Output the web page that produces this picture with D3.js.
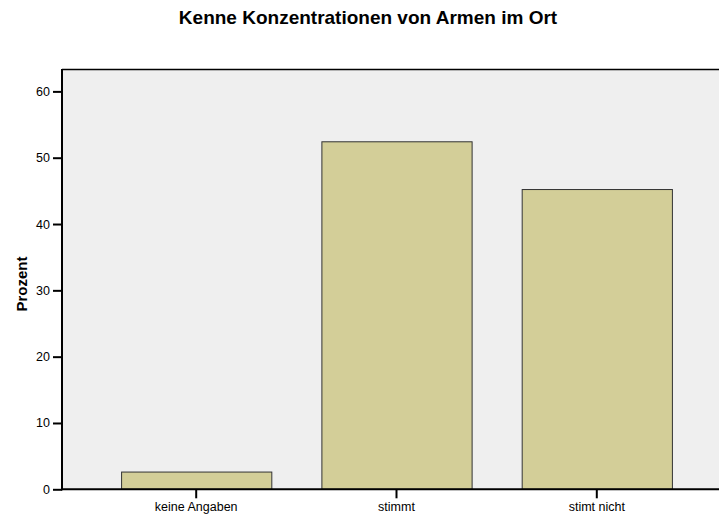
<!DOCTYPE html>
<html>
<head>
<meta charset="utf-8">
<script src="https://cdn.jsdelivr.net/npm/d3@7"></script>
<style>
  body { margin: 0; background: #fff; }
  text { font-family: "Liberation Sans", Arial, sans-serif; }
</style>
</head>
<body>
<div class="chart"></div>
<script>
var svgWidth = 719;
var svgHeight = 517;

var categories = ["keine Angaben", "stimmt", "stimt nicht"];
var percentValues = [2.6, 52.4, 45.2];
var yTickValues = [0, 10, 20, 30, 40, 50, 60];

var chartTitle = "Kenne Konzentrationen von Armen im Ort";
var yTitle = "Prozent";

var plot = { left: 62, right: 731, top: 69.5, bottom: 489.3 };

var svg = d3.select(".chart")
  .append("svg")
  .attr("width", svgWidth)
  .attr("height", svgHeight);

var yScale = d3.scaleLinear()
  .domain([0, 63.3])
  .range([plot.bottom, plot.top]);

var xScale = d3.scaleBand()
  .domain(categories)
  .range([plot.left, plot.right])
  .paddingInner(0.25)
  .paddingOuter(0.295);

// plot background
svg.append("rect")
  .attr("x", plot.left)
  .attr("y", plot.top)
  .attr("width", plot.right - plot.left)
  .attr("height", plot.bottom - plot.top)
  .attr("fill", "#efefef");

// top frame line
svg.append("line")
  .attr("x1", plot.left)
  .attr("x2", plot.right)
  .attr("y1", plot.top)
  .attr("y2", plot.top)
  .attr("stroke", "#000")
  .attr("stroke-width", 1.5);

// bars
svg.append("g")
  .selectAll("rect")
  .data(percentValues)
  .enter()
  .append("rect")
  .attr("x", function(d, i) { return xScale(categories[i]) + 0.5; })
  .attr("y", function(d) { return yScale(d); })
  .attr("width", xScale.bandwidth())
  .attr("height", function(d) { return plot.bottom - yScale(d); })
  .attr("fill", "#d3ce98")
  .attr("stroke", "#333")
  .attr("stroke-width", 1);

// y axis
var yAxis = svg.append("g")
  .attr("transform", "translate(" + plot.left + ",0)")
  .call(d3.axisLeft(yScale).tickValues(yTickValues).tickSize(9).tickPadding(3).tickSizeOuter(0));
yAxis.select(".domain").remove();
yAxis.selectAll(".tick line").attr("stroke", "#000").attr("stroke-width", 2);
yAxis.selectAll(".tick text").attr("font-size", 12.5).attr("fill", "#000")
  .attr("font-family", "'Liberation Sans', Arial, sans-serif");
yAxis.append("line")
  .attr("x1", 0).attr("x2", 0)
  .attr("y1", plot.top - 0.5).attr("y2", plot.bottom + 1)
  .attr("stroke", "#000").attr("stroke-width", 2);

// x axis
var xAxis = svg.append("g")
  .attr("transform", "translate(0," + plot.bottom + ")")
  .call(d3.axisBottom(xScale).tickSize(9).tickPadding(4).tickSizeOuter(0));
xAxis.select(".domain").remove();
xAxis.selectAll(".tick line").attr("stroke", "#000").attr("stroke-width", 2);
xAxis.selectAll(".tick text").attr("font-size", 12.5).attr("fill", "#000")
  .attr("font-family", "'Liberation Sans', Arial, sans-serif");
xAxis.append("line")
  .attr("x1", plot.left - 1).attr("x2", plot.right)
  .attr("y1", 0).attr("y2", 0)
  .attr("stroke", "#000").attr("stroke-width", 2);

// title
svg.append("text")
  .text(chartTitle)
  .attr("x", 368)
  .attr("y", 24)
  .attr("text-anchor", "middle")
  .attr("font-size", 19)
  .attr("font-weight", "bold")
  .attr("fill", "#000");

// y axis title
svg.append("text")
  .text(yTitle)
  .attr("transform", "translate(27,284) rotate(-90)")
  .attr("text-anchor", "middle")
  .attr("font-size", 15)
  .attr("font-weight", "bold")
  .attr("fill", "#000");
</script>
</body>
</html>
